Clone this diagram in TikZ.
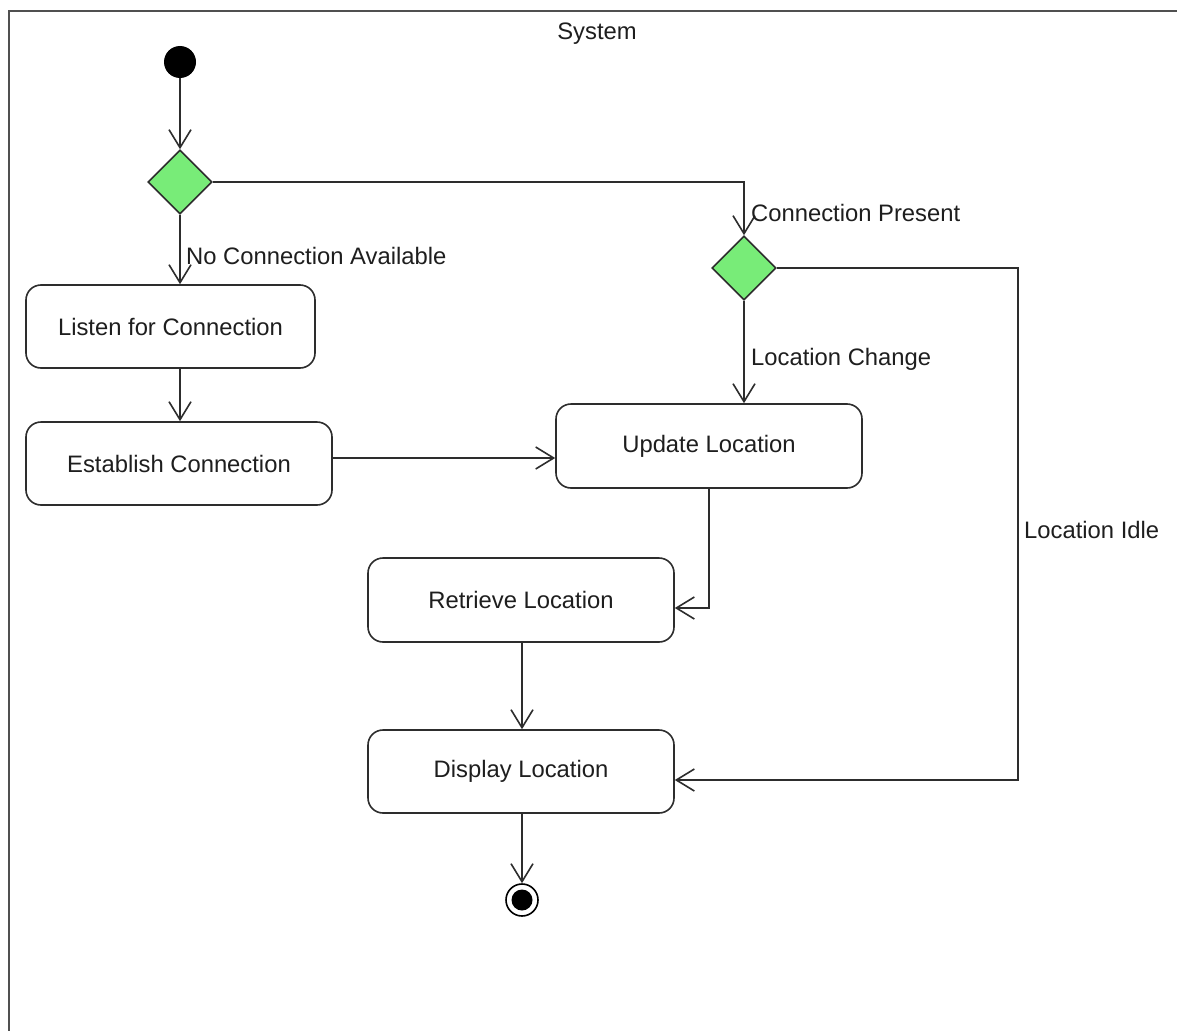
\documentclass[tikz,border=0pt]{standalone}
\usepackage{fontspec}
\setmainfont{Liberation Sans}
\usetikzlibrary{arrows.meta,shapes.geometric}
\definecolor{linegray}{RGB}{45,45,45}
\definecolor{framegray}{RGB}{80,80,80}
\definecolor{decisiongreen}{RGB}{120,236,120}
\definecolor{textgray}{RGB}{30,30,30}
\tikzset{
  px/.style={x=1pt,y=-1pt},
  action/.style={draw=linegray,line width=1.6pt,rounded corners=15pt,fill=white,
    inner sep=0pt,font=\fontsize{23.8}{28}\selectfont,text=textgray},
  decision/.style={diamond,aspect=1,draw=linegray,line width=1.6pt,fill=decisiongreen,
    minimum width=64pt,minimum height=64pt,inner sep=0pt},
  flow/.style={draw=linegray,line width=1.6pt,
    -{Straight Barb[length=18pt,width=22pt,line width=1.6pt]}},
  guard/.style={anchor=west,inner sep=0pt,font=\fontsize{23.8}{28}\selectfont,text=textgray},
}
\begin{document}
\begin{tikzpicture}[px]
\useasboundingbox (0,0) rectangle (1177,1030);
\fill[white] (0,0) rectangle (1177,1030);

% system frame (continues past the page edge)
\draw[framegray,line width=2.4pt] (9,1045) -- (9,11) -- (1195,11);
\node[inner sep=0pt,font=\fontsize{23.8}{28}\selectfont,text=textgray] (sys) at (597,34) {System};

% start and end
\node[circle,fill=black,minimum size=32pt,inner sep=0pt] (start) at (180,62) {};
\node[circle,draw=black,line width=1.6pt,fill=white,minimum size=32pt,inner sep=0pt] (final) at (522,900) {};
\node[circle,fill=black,minimum size=21pt,inner sep=0pt] (finaldot) at (522,900) {};

% decisions
\node[decision] (d1) at (180,182) {};
\node[decision] (d2) at (744,268) {};

% actions
\node[action,minimum width=289pt,minimum height=83pt] (listen) at (170.5,326.5) {Listen for Connection};
\node[action,minimum width=306pt,minimum height=83pt] (establish) at (179,463.5) {Establish Connection};
\node[action,minimum width=306pt,minimum height=84pt] (update) at (709,446) {\raisebox{-2pt}{Update Location}};
\node[action,minimum width=306pt,minimum height=84pt] (retrieve) at (521,600) {Retrieve Location};
\node[action,minimum width=306pt,minimum height=83pt] (display) at (521,771.5) {Display Location};

\coordinate (idle) at (1018,529);

% flows
\draw[flow] (start) -- (d1);
\draw[flow] (d1.south) -- (listen.north -| d1.south);
\draw[flow] (d1.east) -| (d2.north);
\draw[flow] (listen.south -| d1.south) -- (establish.north -| d1.south);
\draw[flow] ([yshift=5.5pt]establish.east) -- ([yshift=5.5pt]establish.east -| update.west);
\draw[flow] (d2.south) -- (update.north -| d2.south);
\draw[flow] (update.south) |- ([yshift=-8pt]retrieve.east);
\draw[flow] (retrieve.south -| finaldot) -- (display.north -| finaldot);
\draw[flow] (d2.east) -| (idle) |- ([yshift=-8.5pt]display.east);
\draw[flow] (display.south -| finaldot) -- (final.north);

% guards
\node[guard] (g1) at (186,256) {No Connection Available};
\node[guard] (g2) at (751,213) {Connection Present};
\node[guard] (g3) at (751,359) {Location Change};
\node[guard] (g4) at (1024,530) {Location Idle};
\end{tikzpicture}
\end{document}
